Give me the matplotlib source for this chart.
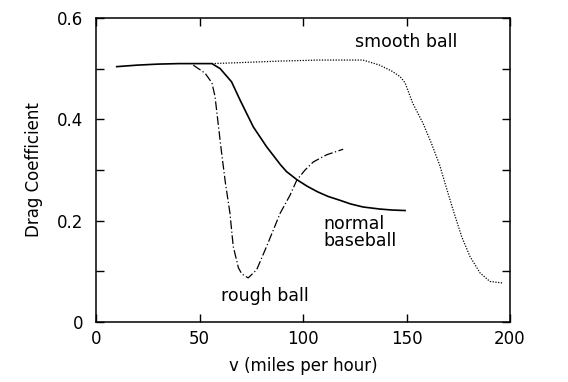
import matplotlib
matplotlib.use("Agg")
import matplotlib.pyplot as plt

plt.rcParams['font.family'] = ['DejaVu Sans']

# Normal baseball (solid)
normal_v = [10, 20, 30, 40, 50, 56, 60, 65.5, 69.6, 76, 82.4, 89, 92, 97, 102, 107, 112, 118, 123, 129, 137, 143, 149.3]
normal_cd = [0.504, 0.507, 0.509, 0.510, 0.510, 0.510, 0.500, 0.474, 0.438, 0.385, 0.346, 0.311, 0.297, 0.281, 0.268, 0.257, 0.248, 0.240, 0.233, 0.227, 0.223, 0.221, 0.220]

# Rough ball (dash-dot)
rough_v = [47, 52.7, 56, 57.5, 59, 60.7, 62.5, 64.7, 66.3, 68.8, 70.4, 73.5, 77.6, 82.4, 89, 93.7, 97, 101, 105, 111.4, 119.4]
rough_cd = [0.507, 0.491, 0.472, 0.445, 0.392, 0.333, 0.275, 0.215, 0.149, 0.107, 0.095, 0.087, 0.103, 0.149, 0.215, 0.250, 0.280, 0.300, 0.316, 0.330, 0.341]

# Smooth ball (dotted)
smooth_v = [56, 70, 89, 108, 129, 137, 143, 147, 149.3, 153, 158, 162, 166, 168.6, 172.6, 176.7, 180.7, 185.5, 190.3, 196.6]
smooth_cd = [0.510, 0.512, 0.515, 0.517, 0.517, 0.507, 0.495, 0.484, 0.472, 0.432, 0.392, 0.353, 0.310, 0.274, 0.220, 0.168, 0.129, 0.097, 0.080, 0.077]

xticks = [0, 50, 100, 150, 200]
yticks = [0, 0.1, 0.2, 0.3, 0.4, 0.5, 0.6]
ytick_labels = ["0", "", "0.2", "", "0.4", "", "0.6"]

fig = plt.figure(figsize=(5.68, 3.82), dpi=100)
ax = fig.add_axes([96/568, 1-322/382, (510-96)/568, (322-18)/382])

ax.plot(normal_v, normal_cd, color='black', lw=1.2, linestyle='-')
ax.plot(rough_v, rough_cd, color='black', lw=0.9, linestyle=(0, (7, 2, 1, 2)))
ax.plot(smooth_v, smooth_cd, color='black', lw=0.9, linestyle=(0, (1, 1.2)))

ax.set_xlim(0, 200)
ax.set_ylim(0, 0.6)
ax.set_xticks(xticks)
ax.set_xticklabels([str(t) for t in xticks])
ax.set_yticks(yticks)
ax.set_yticklabels(ytick_labels)
ax.tick_params(direction='in', length=6, width=1, top=True, right=True, labelsize=12, pad=6)
ax.tick_params(axis='y', pad=9)
for s in ax.spines.values():
    s.set_linewidth(1.1)

ax.set_xlabel("v (miles per hour)", fontsize=12, labelpad=6)
ax.set_ylabel("Drag Coefficient", fontsize=12, labelpad=10)

ax.text(125, 0.552, "smooth ball", fontsize=12.5, va='center', ha='left')
ax.text(110, 0.176, "normal\nbaseball", fontsize=12.5, va='center', ha='left', linespacing=0.95)
ax.text(60.5, 0.051, "rough ball", fontsize=12.5, va='center', ha='left')

fig.savefig("out.png", dpi=100)
